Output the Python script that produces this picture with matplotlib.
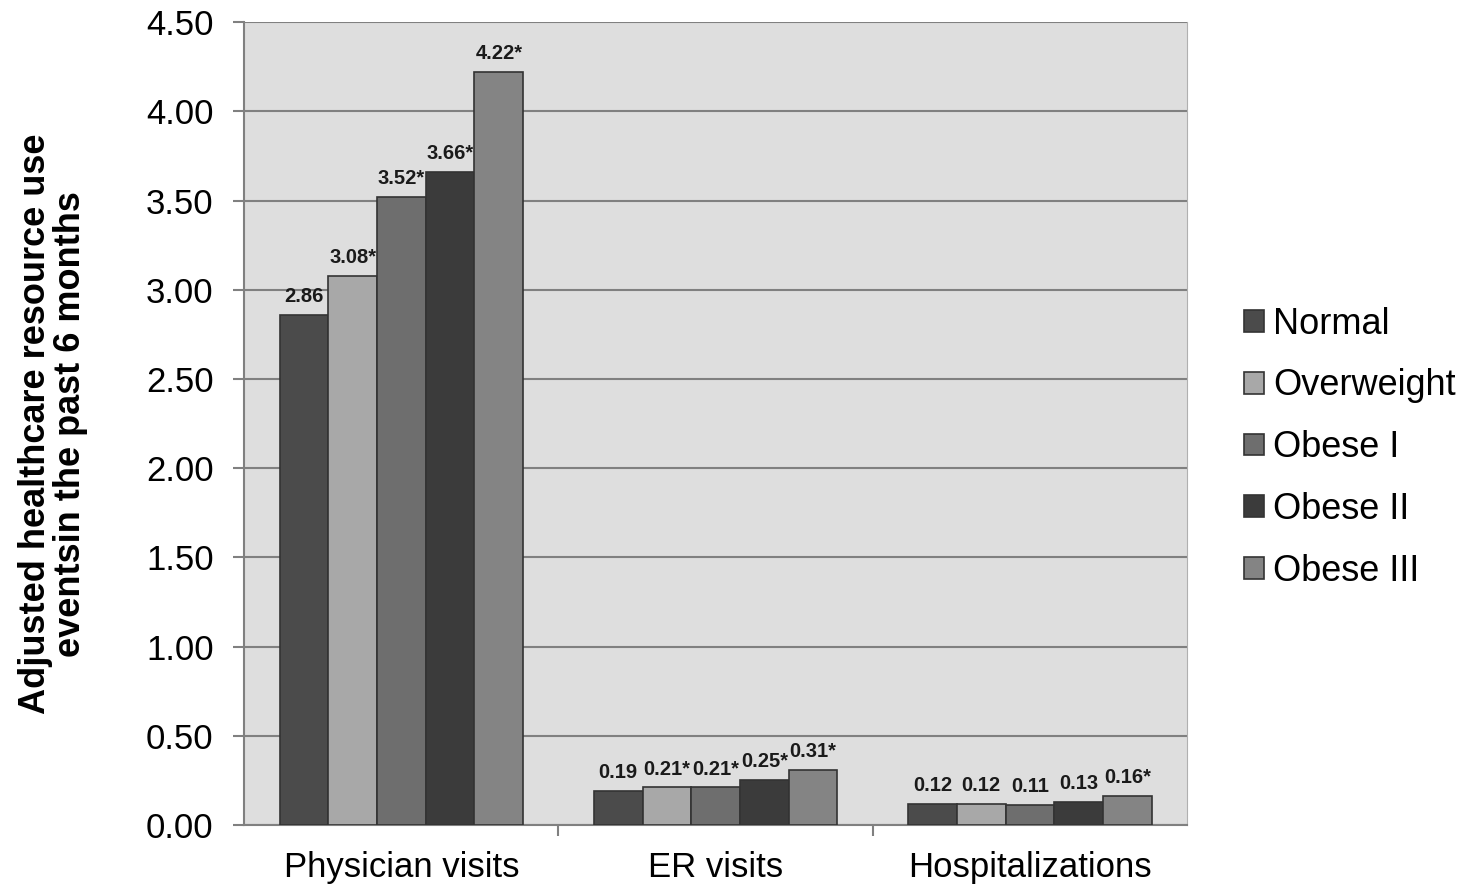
import numpy as np
import matplotlib.pyplot as plt

plt.rcParams['font.family'] = ['Liberation Sans', 'DejaVu Sans']

categories = ['Physician visits', 'ER visits', 'Hospitalizations']
groups = ['Normal', 'Overweight', 'Obese I', 'Obese II', 'Obese III']
values = {
    'Normal':     [2.86, 0.19, 0.12],
    'Overweight': [3.08, 0.21, 0.12],
    'Obese I':    [3.52, 0.21, 0.11],
    'Obese II':   [3.66, 0.25, 0.13],
    'Obese III':  [4.22, 0.31, 0.16],
}
labels = {
    'Normal':     ['2.86', '0.19', '0.12'],
    'Overweight': ['3.08*', '0.21*', '0.12'],
    'Obese I':    ['3.52*', '0.21*', '0.11'],
    'Obese II':   ['3.66*', '0.25*', '0.13'],
    'Obese III':  ['4.22*', '0.31*', '0.16*'],
}
colors = ['#4b4b4b', '#a8a8a8', '#6e6e6e', '#3b3b3b', '#848484']

fig = plt.figure(figsize=(14.71, 8.88), dpi=100)
ax = fig.add_axes([0.166, 0.071, 0.641, 0.904])
ax.set_facecolor('#dedede')

x = np.arange(len(categories))
width = 0.155
for i, g in enumerate(groups):
    pos = x + (i - 2) * width
    ax.bar(pos, values[g], width, color=colors[i], edgecolor='#333333',
           linewidth=1.2, label=g, zorder=3)
    for p, v, t in zip(pos, values[g], labels[g]):
        ax.text(p, v + 0.05, t, ha='center', va='bottom', fontsize=14.5,
                fontweight='bold', color='#1a1a1a', zorder=4)

ax.set_ylim(0, 4.5)
ax.set_xlim(-0.5, 2.5)
ax.set_yticks(np.arange(0, 4.51, 0.5))
ax.set_yticklabels([f'{t:.2f}' for t in np.arange(0, 4.51, 0.5)], fontsize=25)
ax.yaxis.grid(True, color='#808080', linewidth=1.5, zorder=0)
ax.set_axisbelow(True)

ax.set_xticks(x)
ax.set_xticklabels(categories, fontsize=25)
ax.tick_params(axis='x', length=0, pad=19)
ax.set_xticks([0.5, 1.5], minor=True)
ax.tick_params(axis='x', which='minor', length=8, color='#808080', width=1.5)
ax.tick_params(axis='y', length=8, color='#808080', width=1.5, pad=14)

for side in ['left', 'bottom']:
    ax.spines[side].set_color('#808080')
    ax.spines[side].set_linewidth(1.5)
ax.spines['top'].set_visible(False)
ax.spines['right'].set_color('#b0b0b0')

ax.set_ylabel('Adjusted healthcare resource use\neventsin the past 6 months',
              fontsize=26, fontweight='bold', labelpad=42, linespacing=1.0)

ax.legend(loc='center left', bbox_to_anchor=(1.026, 0.47), frameon=False,
          fontsize=26, handlelength=0.55, handleheight=0.55, handletextpad=0.25,
          labelspacing=0.74)

fig.savefig('out.png', dpi=100)
